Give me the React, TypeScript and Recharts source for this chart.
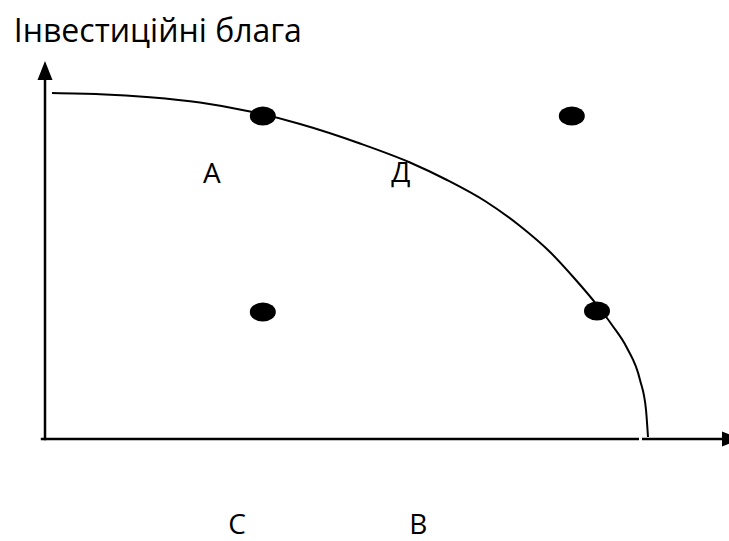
import React from "react";
import { ComposedChart, Line, Scatter, XAxis, YAxis } from "recharts";

// Production possibility frontier (data units: x = consumer goods, y = investment goods)
const curveX = [1.17, 9.17, 17.5, 25.83, 34.17, 42.5, 52.5, 60.83, 67.0, 73.33, 79.17, 84.17, 88.33, 92.0, 94.5, 97.0, 99.17, 100.17, 100.5];
const curveY = [86.5, 86.2, 85.43, 84.13, 81.88, 78.75, 73.88, 69.13, 64.75, 59.5, 53.25, 46.75, 40.0, 33.5, 28.5, 22.75, 14.75, 7.25, 0.5];

const pointX = [36.3, 87.8, 36.3, 92.0];
const pointY = [80.75, 80.75, 31.75, 32.0];

const labelText = ["А", "Д", "С", "В"];
const labelX = [27.8, 59.3, 32.0, 62.2];
const labelY = [64.0, 64.25, -23.75, -23.75];

const titleText = "Інвестиційні блага";
const titleX = -5.2;
const titleY = 99.25;

// axes (in data units)
const yAxisX = [0, 0];
const yAxisY = [-0.3, 91];
const xAxis1X = [-0.7, 99.0];
const xAxis2X = [99.5, 113.0];
const xAxisY = [0, 0];
const arrowUp = { x: 0, y: 94.5 };
const arrowRight = { x: 116.0, y: 0 };

const curveData = curveX.map((x, i) => ({ x, y: curveY[i] }));
const pointData = pointX.map((x, i) => ({ x, y: pointY[i] }));
const labelData = labelText.map((t, i) => ({ x: labelX[i], y: labelY[i], label: t }));
const titleData = [{ x: titleX, y: titleY, label: titleText }];
const yAxisData = yAxisX.map((x, i) => ({ x, y: yAxisY[i] }));
const xAxis1Data = xAxis1X.map((x, i) => ({ x, y: xAxisY[i] }));
const xAxis2Data = xAxis2X.map((x, i) => ({ x, y: xAxisY[i] }));

const FONT = "'Open Sans', 'Noto Sans', sans-serif";

const Ellipse = (p: any) => <ellipse cx={p.cx} cy={p.cy} rx={13} ry={9.5} fill="#000" />;
const UpArrow = (p: any) => (
  <polygon points={`${p.cx},${p.cy} ${p.cx - 7.5},${p.cy + 19} ${p.cx + 7.5},${p.cy + 19}`} fill="#000" />
);
const RightArrow = (p: any) => (
  <polygon points={`${p.cx},${p.cy} ${p.cx - 19},${p.cy - 7.5} ${p.cx - 19},${p.cy + 7.5}`} fill="#000" />
);
const Letter = (p: any) => (
  <text x={p.cx} y={p.cy} textAnchor="middle" fontFamily={FONT} fontSize={28} fill="#000">
    {p.payload.label}
  </text>
);
const Title = (p: any) => (
  <text x={p.cx} y={p.cy} textAnchor="start" fontFamily={FONT} fontSize={32} fill="#000">
    {p.payload.label}
  </text>
);

export default function App() {
  return (
    <div style={{ position: "absolute", left: 0, top: 0, background: "#fff" }}>
      <ComposedChart width={729} height={541} margin={{ top: 0, right: 0, bottom: 0, left: 0 }}>
        <XAxis dataKey="x" type="number" domain={[-7.5, 114]} hide allowDataOverflow />
        <YAxis dataKey="y" type="number" domain={[-25.5, 109.75]} hide allowDataOverflow />
        <Line data={yAxisData} dataKey="y" type="linear" stroke="#000" strokeWidth={2.5} dot={false} activeDot={false} isAnimationActive={false} />
        <Line data={xAxis1Data} dataKey="y" type="linear" stroke="#000" strokeWidth={2.5} dot={false} activeDot={false} isAnimationActive={false} />
        <Line data={xAxis2Data} dataKey="y" type="linear" stroke="#000" strokeWidth={2.5} dot={false} activeDot={false} isAnimationActive={false} />
        <Line data={curveData} dataKey="y" type="monotone" stroke="#000" strokeWidth={2} dot={false} activeDot={false} isAnimationActive={false} />
        <Scatter data={[arrowUp]} shape={UpArrow} isAnimationActive={false} />
        <Scatter data={[arrowRight]} shape={RightArrow} isAnimationActive={false} />
        <Scatter data={pointData} shape={Ellipse} isAnimationActive={false} />
        <Scatter data={labelData} shape={Letter} isAnimationActive={false} />
        <Scatter data={titleData} shape={Title} isAnimationActive={false} />
      </ComposedChart>
    </div>
  );
}
